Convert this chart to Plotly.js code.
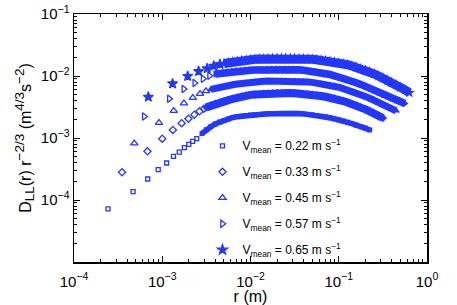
<!DOCTYPE html>
<html><head><meta charset="utf-8">
<script src="https://cdn.plot.ly/plotly-3.0.1.min.js"></script>
<style>html,body{margin:0;padding:0;background:#fff}#chart{width:457px;height:305px}</style>
</head><body><div id="chart"></div>
<script>
const speeds = ['0.22', '0.33', '0.45', '0.57', '0.65'];

// sparse (small-r) points and dense band points
const r1 = [2.43e-4,4.67e-4,6.84e-4,9.0e-4,1.12e-3,1.34e-3,1.56e-3,1.78e-3,2.0e-3,2.21e-3,2.46e-3];
const d1 = [7.2e-5,1.36e-4,2.18e-4,3.10e-4,3.95e-4,5.04e-4,5.94e-4,6.98e-4,7.9e-4,8.85e-4,9.75e-4];
const r1b = [0.00282,0.00316,0.00355,0.00398,0.00447,0.00501,0.00562,0.00631,0.00708,0.00794,0.00891,0.0100,0.0112,0.0126,0.0141,0.0158,0.0178,0.0200,0.0224,0.0251,0.0282,0.0316,0.0355,0.0398,0.0447,0.0501,0.0562,0.0631,0.0708,0.0794,0.0891,0.100,0.112,0.126,0.141,0.158,0.178,0.200,0.224];
const d1b = [0.00118,0.00136,0.00152,0.00168,0.00181,0.00192,0.00203,0.00214,0.00221,0.00226,0.00231,0.00235,0.00237,0.00240,0.00243,0.00246,0.00247,0.00249,0.00250,0.00250,0.00250,0.00250,0.00248,0.00245,0.00241,0.00237,0.00231,0.00225,0.00219,0.00212,0.00204,0.00197,0.00189,0.00180,0.00171,0.00161,0.00153,0.00145,0.00135];

const r2 = [3.5e-4,6.8e-4,1.0e-3,1.32e-3,1.66e-3,1.98e-3,2.31e-3,2.64e-3,2.96e-3];
const d2 = [2.80e-4,6.10e-4,9.75e-4,1.35e-3,1.73e-3,2.05e-3,2.38e-3,2.70e-3,2.97e-3];
const r2b = [0.00316,0.00355,0.00398,0.00447,0.00501,0.00562,0.00631,0.00708,0.00794,0.00891,0.0100,0.0112,0.0126,0.0141,0.0158,0.0178,0.0200,0.0224,0.0251,0.0282,0.0316,0.0355,0.0398,0.0447,0.0501,0.0562,0.0631,0.0708,0.0794,0.0891,0.100,0.112,0.126,0.141,0.158,0.178,0.200,0.224,0.251,0.282,0.316];
const d2b = [0.00312,0.00334,0.00356,0.00373,0.00389,0.00408,0.00429,0.00450,0.00467,0.00483,0.00496,0.00503,0.00510,0.00516,0.00524,0.00528,0.00530,0.00532,0.00532,0.00530,0.00526,0.00522,0.00514,0.00507,0.00499,0.00488,0.00476,0.00462,0.00450,0.00432,0.00415,0.00395,0.00375,0.00357,0.00334,0.00312,0.00290,0.00269,0.00247,0.00228,0.00210];

const r3 = [4.82e-4,9.18e-4,1.35e-3,1.76e-3,2.22e-3,2.68e-3,3.13e-3];
const d3 = [8.22e-4,1.76e-3,2.75e-3,3.63e-3,4.45e-3,5.16e-3,5.73e-3];
const r3b = [0.00355,0.00398,0.00447,0.00501,0.00562,0.00631,0.00708,0.00794,0.00891,0.0100,0.0112,0.0126,0.0141,0.0158,0.0178,0.0200,0.0224,0.0251,0.0282,0.0316,0.0355,0.0398,0.0447,0.0501,0.0562,0.0631,0.0708,0.0794,0.0891,0.100,0.112,0.126,0.141,0.158,0.178,0.200,0.224,0.251,0.282,0.316,0.355,0.398,0.447];
const d3b = [0.00608,0.00636,0.00662,0.00679,0.00698,0.00721,0.00743,0.00762,0.00780,0.00794,0.00806,0.00815,0.00821,0.00827,0.00830,0.00833,0.00836,0.00836,0.00833,0.00827,0.00821,0.00812,0.00800,0.00789,0.00774,0.00754,0.00735,0.00716,0.00690,0.00659,0.00626,0.00596,0.00566,0.00532,0.00499,0.00467,0.00437,0.00405,0.00375,0.00348,0.00321,0.00297,0.00274];

const r4 = [6.24e-4,1.20e-3,1.75e-3,2.33e-3,2.90e-3,3.43e-3];
const d4 = [2.22e-3,4.29e-3,6.17e-3,7.71e-3,9.02e-3,1.01e-2];
const r4b = [0.00398,0.00447,0.00501,0.00562,0.00631,0.00708,0.00794,0.00891,0.0100,0.0112,0.0126,0.0141,0.0158,0.0178,0.0200,0.0224,0.0251,0.0282,0.0316,0.0355,0.0398,0.0447,0.0501,0.0562,0.0631,0.0708,0.0794,0.0891,0.100,0.112,0.126,0.141,0.158,0.178,0.200,0.224,0.251,0.282,0.316,0.355,0.398,0.447,0.501,0.562];
const d4b = [0.01077,0.01106,0.01130,0.01160,0.01182,0.01204,0.01218,0.01232,0.01241,0.01250,0.01259,0.01264,0.01273,0.01278,0.01283,0.01283,0.01283,0.01278,0.01268,0.01259,0.01241,0.01223,0.01195,0.01164,0.01126,0.01089,0.01057,0.01015,0.00974,0.00925,0.00878,0.00830,0.00780,0.00732,0.00685,0.00640,0.00594,0.00550,0.00510,0.00476,0.00443,0.00412,0.00388,0.00360];

const r5 = [6.95e-4,1.31e-3,1.94e-3,2.58e-3,3.23e-3,3.83e-3,4.51e-3];
const d5 = [4.58e-3,7.54e-3,9.93e-3,1.19e-2,1.32e-2,1.45e-2,1.55e-2];
const r5b = [0.00501,0.00562,0.00631,0.00708,0.00794,0.00891,0.0100,0.0112,0.0126,0.0141,0.0158,0.0178,0.0200,0.0224,0.0251,0.0282,0.0316,0.0355,0.0398,0.0447,0.0501,0.0562,0.0631,0.0708,0.0794,0.0891,0.100,0.112,0.126,0.141,0.158,0.178,0.200,0.224,0.251,0.282,0.316,0.355,0.398,0.447,0.501,0.562,0.631];
const d5b = [0.0159,0.01645,0.0169,0.0173,0.0177,0.0180,0.0183,0.0186,0.0188,0.0189,0.0191,0.0192,0.0193,0.0194,0.0194,0.0193,0.0192,0.0191,0.0190,0.0188,0.0186,0.0183,0.0180,0.0176,0.0173,0.0168,0.0163,0.0158,0.0152,0.0145,0.0139,0.0131,0.0124,0.0117,0.0108,0.0100,0.00928,0.00856,0.00786,0.00721,0.00657,0.00599,0.00537];

const xTickVals = [1e-4, 1e-3, 1e-2, 1e-1, 1];
const xTickText = ['10<sup>−4</sup>', '10<sup>−3</sup>', '10<sup>−2</sup>', '10<sup>−1</sup>', '10<sup>0</sup>'];
const yTickVals = [1e-4, 1e-3, 1e-2, 1e-1];
const yTickText = ['10<sup>−4</sup>', '10<sup>−3</sup>', '10<sup>−2</sup>', '10<sup>−1</sup>'];

const BLUE = 'rgb(35,55,255)';
const sparseR = [r1, r2, r3, r4, r5];
const sparseD = [d1, d2, d3, d4, d5];
const bandR = [r1b, r2b, r3b, r4b, r5b];
const bandD = [d1b, d2b, d3b, d4b, d5b];
const openSym = ['square-open', 'diamond-open', 'triangle-up-open', 'triangle-right-open', 'star'];
const fillSym = ['square', 'diamond', 'triangle-up', 'triangle-right', 'star'];
const openSize = [4, 5.5, 6.5, 6.5, 7.5];
const fillSize = [5, 6.5, 7, 7, 8.5];
const bandWidth = [5.5, 8, 7, 7.5, 9];

const traces = [];
for (let i = 0; i < 5; i++) {
  traces.push({
    x: bandR[i], y: bandD[i], type: 'scatter', mode: 'lines+markers', showlegend: false,
    hoverinfo: 'skip',
    line: {color: BLUE, width: bandWidth[i]},
    marker: {symbol: fillSym[i], size: fillSize[i], color: BLUE, line: {width: 0}}
  });
}
for (let i = 0; i < 5; i++) {
  traces.push({
    x: sparseR[i], y: sparseD[i], type: 'scatter', mode: 'markers',
    name: 'V<sub>mean</sub> = ' + speeds[i] + ' m s<sup>−1</sup>',
    legendgroup: 'g' + i,
    marker: {symbol: openSym[i], size: openSize[i], color: BLUE, line: {width: 1.3, color: BLUE}}
  });
}

function minorVals(lo, hi) {
  const v = [];
  for (let e = lo; e < hi; e++) for (let k = 2; k <= 9; k++) v.push(k * Math.pow(10, e));
  return v;
}

const FONT = 'Liberation Sans, Arial, Helvetica, sans-serif';
const axisCommon = {
  type: 'log', showgrid: false, zeroline: false, showline: true, linecolor: '#000', linewidth: 1.5,
  mirror: 'ticks', ticks: 'inside', ticklen: 6, tickwidth: 1, tickcolor: '#000',
  tickmode: 'array', tickfont: {family: FONT, size: 15, color: '#000'}
};

const S = '<span style="font-size:13.5px">';
const yTitle = 'D<sub>' + S + 'LL</span></sub>(r) r<sup>' + S + '−2/3</span></sup> (m<sup>' + S +
  '4/3</span></sup>s<sup>' + S + '−2</span></sup>)';

const layout = {
  width: 457, height: 305,
  margin: {l: 74, r: 30, t: 14, b: 43},
  paper_bgcolor: '#fff', plot_bgcolor: '#fff',
  font: {family: FONT, color: '#000'},
  showlegend: true,
  legend: {x: 0.364, y: 0.527, xanchor: 'left', yanchor: 'top', bgcolor: 'rgba(0,0,0,0)',
           font: {family: FONT, size: 12, color: '#000'}, traceorder: 'grouped', tracegroupgap: 7,
           itemwidth: 30},
  xaxis: Object.assign({}, axisCommon, {
    range: [-4, 0], tickvals: xTickVals, ticktext: xTickText, ticklabelstandoff: 5,
    minor: {tickmode: 'array', tickvals: minorVals(-4, 0), ticks: 'inside', ticklen: 3, tickcolor: '#000', showgrid: false},
    title: {text: 'r (m)', font: {family: FONT, size: 16, color: '#000'}, standoff: 6}
  }),
  yaxis: Object.assign({}, axisCommon, {
    range: [-5, -1], tickvals: yTickVals, ticktext: yTickText,
    minor: {tickmode: 'array', tickvals: minorVals(-5, -1), ticks: 'inside', ticklen: 3, tickcolor: '#000', showgrid: false},
    title: {text: yTitle, font: {family: FONT, size: 16, color: '#000'}, standoff: 5}
  })
};

Plotly.newPlot('chart', traces, layout, {displayModeBar: false, staticPlot: true});
</script>
</body></html>
